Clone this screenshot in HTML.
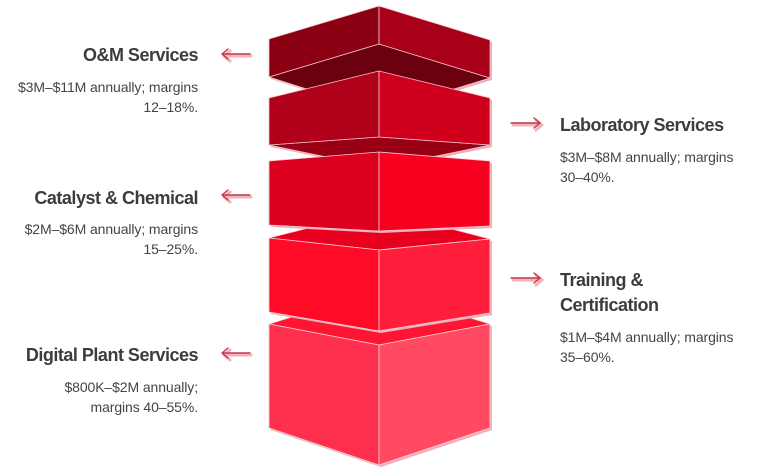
<!DOCTYPE html>
<html>
<head>
<meta charset="utf-8">
<style>
  html, body { margin:0; padding:0; background:#ffffff; }
  body { width:780px; height:475px; position:relative; overflow:hidden;
         font-family:"Liberation Sans", "DejaVu Sans", sans-serif; color:#404040; }
  svg { position:absolute; left:0; top:0; }
  .t { position:absolute; font-size:18px; line-height:25px; font-weight:bold;
       letter-spacing:-0.5px; color:#3c3c3c; white-space:nowrap; }
  .s { position:absolute; font-size:14px; line-height:20px; color:#444444;
       letter-spacing:-0.1px; white-space:nowrap; }
  .L { right:582px; text-align:right; }
  .R { left:560px; text-align:left; }
</style>
</head>
<body>
<svg width="780" height="475" viewBox="0 0 780 475">
  <g stroke-linejoin="round">
    <!-- Box 1 -->
    <polygon points="271,41 381,8 492,42 492,80 381,114 271,79" fill="#e8b1b9"/>
    <polygon points="269,77 379,44 490,78 379,112" fill="#6b000e" stroke="#f3c4cb" stroke-width="0.8"/>
    <polygon points="269,39 379,6 379,44 269,77" fill="#8b0013" stroke="#f3c4cb" stroke-width="0.8"/>
    <polygon points="379,6 490,40 490,78 379,44" fill="#a80018" stroke="#f3c4cb" stroke-width="0.8"/>

    <!-- Box 2 -->
    <polygon points="271,100 381,73 492,100 492,147 381,170 271,147" fill="#e8b1b9"/>
    <polygon points="269,145 379,137 490,145 379,168" fill="#9a0015" stroke="#f3c4cb" stroke-width="0.8"/>
    <polygon points="269,98 379,71 379,137 269,145" fill="#b0001a" stroke="#f3c4cb" stroke-width="0.8"/>
    <polygon points="379,71 490,98 490,145 379,137" fill="#d0001c" stroke="#f3c4cb" stroke-width="0.8"/>

    <!-- Box 5 -->
    <polygon points="271,326 381,292 492,326 492,430 381,467 271,430" fill="#e8b1b9"/>
    <polygon points="269,324 379,290 490,324 379,345" fill="#ff1532" stroke="#f8d0d6" stroke-width="0.8"/>
    <polygon points="269,324 379,345 379,465 269,428" fill="#ff304e" stroke="#f8d0d6" stroke-width="0.8"/>
    <polygon points="379,345 490,324 490,428 379,465" fill="#ff4a61" stroke="#f8d0d6" stroke-width="0.8"/>

    <!-- Box 4 -->
    <polygon points="271,240 381,212 492,241 492,315 381,333 271,314" fill="#e8b1b9"/>
    <polygon points="269,238 379,210 490,239 379,250" fill="#e9001f" stroke="#f8d0d6" stroke-width="0.8"/>
    <polygon points="269,238 379,250 379,331 269,312" fill="#ff0a27" stroke="#f8d0d6" stroke-width="0.8"/>
    <polygon points="379,250 490,239 490,313 379,331" fill="#ff1f3c" stroke="#f8d0d6" stroke-width="0.8"/>

    <!-- Box 3 -->
    <polygon points="271,163 381,154 492,163 492,228 381,233 271,227" fill="#e8b1b9"/>
    <polygon points="269,161 379,152 379,231 269,225" fill="#dc001e" stroke="#f6ccd2" stroke-width="0.8"/>
    <polygon points="379,152 490,161 490,226 379,231" fill="#f8001f" stroke="#f6ccd2" stroke-width="0.8"/>
  </g>

  <!-- Arrows -->
  <g fill="none" stroke-linecap="round" stroke-linejoin="round">
    <!-- left arrows -->
    <g stroke="#eeb3bb" stroke-width="3">
      <path d="M224,56 L251,56 M224,56 L230,51 M224,56 L230,61"/>
      <path d="M224,197 L251,197 M224,197 L230,192 M224,197 L230,202"/>
      <path d="M224,355 L251,355 M224,355 L230,350 M224,355 L230,360"/>
    </g>
    <g stroke="#c8354a" stroke-width="1.4">
      <path d="M222,54 L250,54 M222,54 L228,49 M222,54 L228,59"/>
      <path d="M222,195 L250,195 M222,195 L228,190 M222,195 L228,200"/>
      <path d="M222,353 L250,353 M222,353 L228,348 M222,353 L228,358"/>
    </g>
    <!-- right arrows -->
    <g stroke="#eeb3bb" stroke-width="3">
      <path d="M513,125 L542,125 M542,125 L536,120 M542,125 L536,130"/>
      <path d="M513,280 L542,280 M542,280 L536,275 M542,280 L536,285"/>
    </g>
    <g stroke="#c8354a" stroke-width="1.4">
      <path d="M511,123 L540,123 M540,123 L534,118 M540,123 L534,128"/>
      <path d="M511,278 L540,278 M540,278 L534,273 M540,278 L534,283"/>
    </g>
  </g>
</svg>

<!-- Left labels -->
<div class="t L" style="top:43px;">O&amp;M Services</div>
<div class="s L" style="top:77px;">$3M–$11M annually; margins<br>12–18%.</div>

<div class="t L" style="top:186px;">Catalyst &amp; Chemical</div>
<div class="s L" style="top:219px;">$2M–$6M annually; margins<br>15–25%.</div>

<div class="t L" style="top:343px;">Digital Plant Services</div>
<div class="s L" style="top:377px;">$800K–$2M annually;<br>margins 40–55%.</div>

<!-- Right labels -->
<div class="t R" style="top:113px;">Laboratory Services</div>
<div class="s R" style="top:147px;">$3M–$8M annually; margins<br>30–40%.</div>

<div class="t R" style="top:268px;">Training &amp;<br>Certification</div>
<div class="s R" style="top:327px;">$1M–$4M annually; margins<br>35–60%.</div>
</body>
</html>
